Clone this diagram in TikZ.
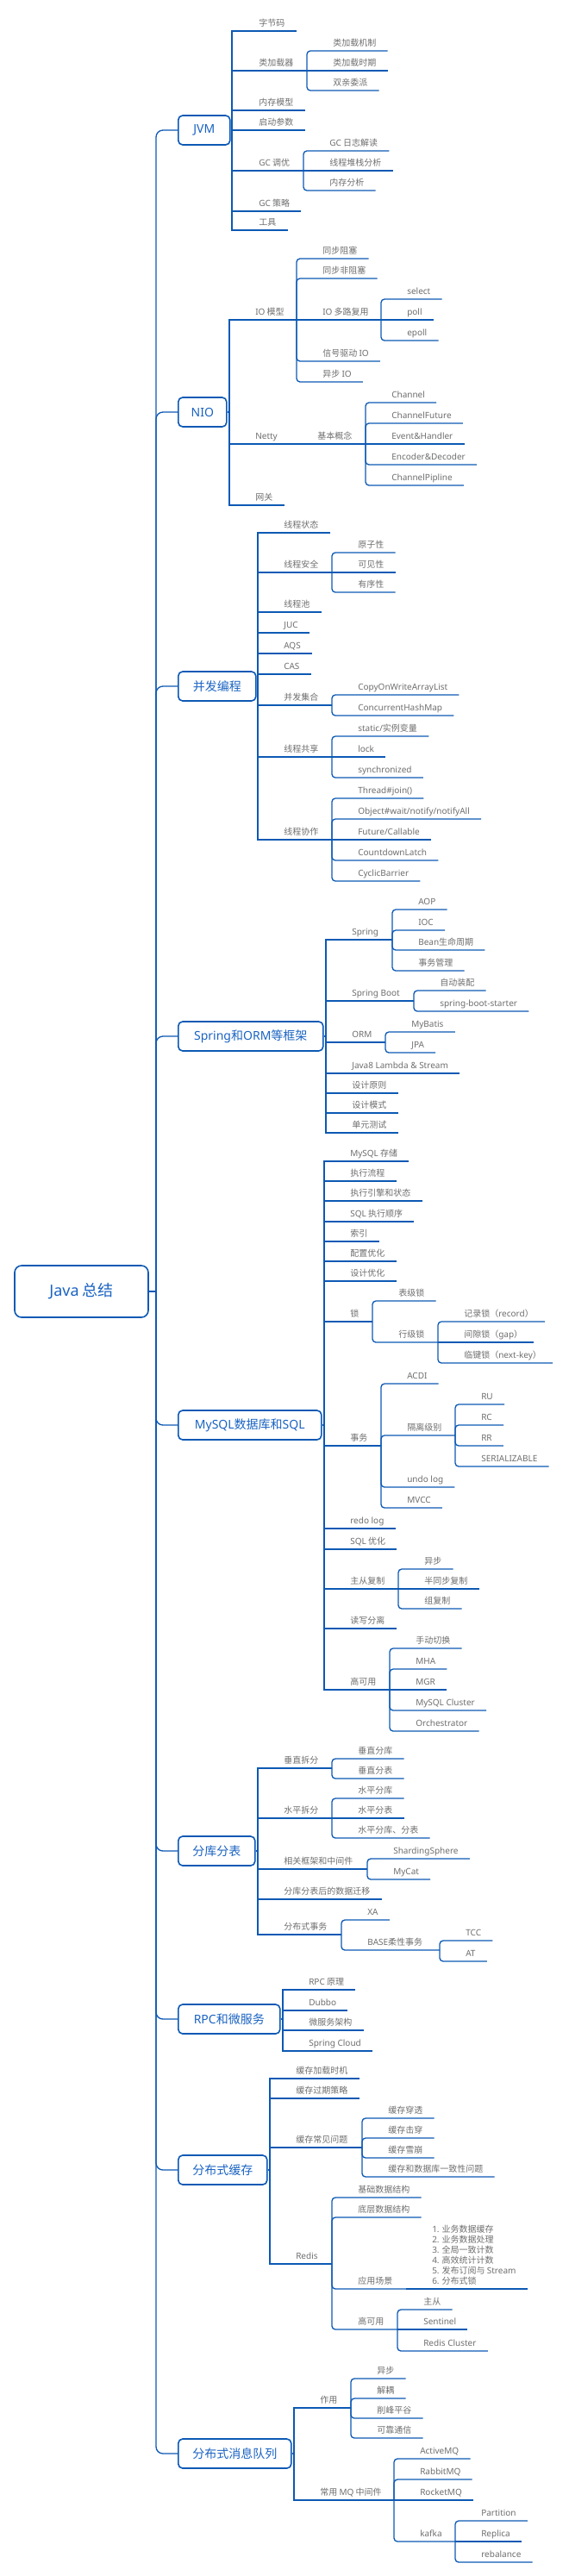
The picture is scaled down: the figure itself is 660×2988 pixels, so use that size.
\documentclass[tikz,border=0pt]{standalone}
\usepackage{fontspec}
\setmainfont{Noto Sans}
\newfontfamily\cjkf{Noto Sans CJK SC}
\newfontfamily\latf{Noto Sans}
\newcommand\LA[1]{{\latf #1}}
\definecolor{lc}{HTML}{0C59B4}
\definecolor{bt}{HTML}{1A63C2}
\definecolor{tc}{HTML}{6E6E6E}
\tikzset{
  lns/.style={draw=lc, line width=1pt},
  lnr/.style={draw=lc, line width=1pt, rounded corners=3pt},
  lnt/.style={draw=lc, line width=1pt, rounded corners=6pt},
  lbl/.style={inner sep=0pt, anchor=base west, text=tc, font=\cjkf\fontsize{7.5}{9}\selectfont},
  mmbox/.style={draw=lc, line width=1.2pt, rounded corners=3.75pt, fill=white, text=bt,
    font=\cjkf\fontsize{10.5}{12}\selectfont, minimum height=25.5pt, inner xsep=6pt, anchor=west},
  mmroot/.style={draw=lc, line width=1.2pt, rounded corners=6pt, fill=white, text=bt,
    font=\cjkf\fontsize{13.5}{15}\selectfont, minimum height=45pt, minimum width=116.25pt}
}
% {style}{name}{parent}{textx}{U}{label}
\newcommand\mkleaf[6]{%
  \node[lbl] (#2) at (#4,#5-5.5) {#6};
  \path (#2.base east) ++(13,5.5) coordinate (#2-e);
  \draw[#1] (#3) |- (#2-e);
}
% {style}{name}{parent}{textx}{U}{vx}{label}
\newcommand\mkbranch[7]{%
  \node[lbl] (#2) at (#4,#5-5.5) {#7};
  \coordinate (#2-e) at (#6,#5);
  \draw[#1] (#3) |- (#2-e);
}
% {name}{y}{widthpx}{vx}{label}
\newcommand\mkbox[5]{%
  \node[mmbox, minimum width=#3*0.75pt] (#1) at (206,#2) {#5};
  \coordinate (#1-e) at (#4,#2);
  \draw[lnt] (tr) |- (#1.west);
  \draw[lns] (#1.east) -- (#1-e);
}
\begin{document}
\begin{tikzpicture}[x=0.75pt,y=-0.75pt]
\useasboundingbox (0,0) rectangle (660,2988);
\coordinate (tr) at (181,1498);
\node[mmroot] (root) at (94.5,1498) {\LA{Java} 总结};
\draw[lns] (root.east) -- (tr);

% ---------------- JVM
\mkbox{jvm}{151}{60}{269}{\LA{JVM}}
\mkleaf{lns}{j1}{jvm-e}{300}{36}{字节码}
\mkbranch{lns}{j2}{jvm-e}{300}{82}{356}{类加载器}
 \mkleaf{lnr}{j21}{j2-e}{386}{59}{类加载机制}
 \mkleaf{lns}{j22}{j2-e}{386}{82}{类加载时期}
 \mkleaf{lnr}{j23}{j2-e}{386}{105}{双亲委派}
\mkleaf{lns}{j3}{jvm-e}{300}{128}{内存模型}
\mkleaf{lns}{j4}{jvm-e}{300}{151}{启动参数}
\mkbranch{lns}{j5}{jvm-e}{300}{198}{352}{\LA{GC} 调优}
 \mkleaf{lnr}{j51}{j5-e}{382}{175}{\LA{GC} 日志解读}
 \mkleaf{lns}{j52}{j5-e}{382}{198}{线程堆栈分析}
 \mkleaf{lnr}{j53}{j5-e}{382}{221}{内存分析}
\mkleaf{lns}{j6}{jvm-e}{300}{245}{\LA{GC} 策略}
\mkleaf{lns}{j7}{jvm-e}{300}{267}{工具}

% ---------------- NIO
\mkbox{nio}{478}{56}{266}{\LA{NIO}}
\mkbranch{lns}{n1}{nio-e}{296}{371}{344}{\LA{IO} 模型}
 \mkleaf{lnr}{n11}{n1-e}{374}{300}{同步阻塞}
 \mkleaf{lnr}{n12}{n1-e}{374}{323}{同步非阻塞}
 \mkbranch{lns}{n13}{n1-e}{374}{371}{442}{\LA{IO} 多路复用}
  \mkleaf{lnr}{n131}{n13-e}{472}{347}{\LA{select}}
  \mkleaf{lns}{n132}{n13-e}{472}{371}{\LA{poll}}
  \mkleaf{lnr}{n133}{n13-e}{472}{395}{\LA{epoll}}
 \mkleaf{lnr}{n14}{n1-e}{374}{419}{信号驱动 \LA{IO}}
 \mkleaf{lnr}{n15}{n1-e}{374}{443}{异步 \LA{IO}}
\mkbranch{lns}{n2}{nio-e}{296}{515}{338}{\LA{Netty}}
 \mkbranch{lns}{n21}{n2-e}{368}{515}{424}{基本概念}
  \mkleaf{lnr}{n211}{n21-e}{454}{467}{\LA{Channel}}
  \mkleaf{lnr}{n212}{n21-e}{454}{491}{\LA{ChannelFuture}}
  \mkleaf{lns}{n213}{n21-e}{454}{515}{\LA{Event\&Handler}}
  \mkleaf{lnr}{n214}{n21-e}{454}{539}{\LA{Encoder\&Decoder}}
  \mkleaf{lnr}{n215}{n21-e}{454}{563}{\LA{ChannelPipline}}
\mkleaf{lns}{n3}{nio-e}{296}{586}{网关}

% ---------------- 并发编程
\mkbox{con}{796}{90}{299}{并发编程}
\mkleaf{lns}{c1}{con-e}{329}{618}{线程状态}
\mkbranch{lns}{c2}{con-e}{329}{664}{385}{线程安全}
 \mkleaf{lnr}{c21}{c2-e}{415}{641}{原子性}
 \mkleaf{lns}{c22}{c2-e}{415}{664}{可见性}
 \mkleaf{lnr}{c23}{c2-e}{415}{687}{有序性}
\mkleaf{lns}{c3}{con-e}{329}{710}{线程池}
\mkleaf{lns}{c4}{con-e}{329}{734}{\LA{JUC}}
\mkleaf{lns}{c5}{con-e}{329}{758}{\LA{AQS}}
\mkleaf{lns}{c6}{con-e}{329}{782}{\LA{CAS}}
\mkbranch{lns}{c7}{con-e}{329}{818}{385}{并发集合}
 \mkleaf{lnr}{c71}{c7-e}{415}{806}{\LA{CopyOnWriteArrayList}}
 \mkleaf{lnr}{c72}{c7-e}{415}{830}{\LA{ConcurrentHashMap}}
\mkbranch{lns}{c8}{con-e}{329}{878}{385}{线程共享}
 \mkleaf{lnr}{c81}{c8-e}{415}{854}{\LA{static/}实例变量}
 \mkleaf{lns}{c82}{c8-e}{415}{878}{\LA{lock}}
 \mkleaf{lnr}{c83}{c8-e}{415}{902}{\LA{synchronized}}
\mkbranch{lns}{c9}{con-e}{329}{974}{385}{线程协作}
 \mkleaf{lnr}{c91}{c9-e}{415}{926}{\LA{Thread\#join()}}
 \mkleaf{lnr}{c92}{c9-e}{415}{950}{\LA{Object\#wait/notify/notifyAll}}
 \mkleaf{lns}{c93}{c9-e}{415}{974}{\LA{Future/Callable}}
 \mkleaf{lnr}{c94}{c9-e}{415}{998}{\LA{CountdownLatch}}
 \mkleaf{lnr}{c95}{c9-e}{415}{1022}{\LA{CyclicBarrier}}

% ---------------- Spring
\mkbox{spr}{1202}{168}{378}{\LA{Spring}和\LA{ORM}等框架}
\mkbranch{lns}{s1}{spr-e}{408}{1090}{455}{\LA{Spring}}
 \mkleaf{lnr}{s11}{s1-e}{485}{1055}{\LA{AOP}}
 \mkleaf{lnr}{s12}{s1-e}{485}{1079}{\LA{IOC}}
 \mkleaf{lnr}{s13}{s1-e}{485}{1102}{\LA{Bean}生命周期}
 \mkleaf{lnr}{s14}{s1-e}{485}{1126}{事务管理}
\mkbranch{lns}{s2}{spr-e}{408}{1161}{480}{\LA{Spring Boot}}
 \mkleaf{lnr}{s21}{s2-e}{510}{1149}{自动装配}
 \mkleaf{lnr}{s22}{s2-e}{510}{1173}{\LA{spring-boot-starter}}
\mkbranch{lns}{s3}{spr-e}{408}{1209}{447}{\LA{ORM}}
 \mkleaf{lnr}{s31}{s3-e}{477}{1197}{\LA{MyBatis}}
 \mkleaf{lnr}{s32}{s3-e}{477}{1221}{\LA{JPA}}
\mkleaf{lns}{s4}{spr-e}{408}{1245}{\LA{Java8 Lambda \& Stream}}
\mkleaf{lns}{s5}{spr-e}{408}{1268}{设计原则}
\mkleaf{lns}{s6}{spr-e}{408}{1291}{设计模式}
\mkleaf{lns}{s7}{spr-e}{408}{1314}{单元测试}

% ---------------- MySQL
\mkbox{my}{1653}{166}{376}{\LA{MySQL}数据库和\LA{SQL}}
\mkleaf{lns}{m1}{my-e}{406}{1347}{\LA{MySQL} 存储}
\mkleaf{lns}{m2}{my-e}{406}{1370}{执行流程}
\mkleaf{lns}{m3}{my-e}{406}{1393}{执行引擎和状态}
\mkleaf{lns}{m4}{my-e}{406}{1417}{\LA{SQL} 执行顺序}
\mkleaf{lns}{m5}{my-e}{406}{1440}{索引}
\mkleaf{lns}{m6}{my-e}{406}{1463}{配置优化}
\mkleaf{lns}{m7}{my-e}{406}{1486}{设计优化}
\mkbranch{lns}{m8}{my-e}{406}{1533}{432}{锁}
 \mkleaf{lnr}{m81}{m8-e}{462}{1509}{表级锁}
 \mkbranch{lnr}{m82}{m8-e}{462}{1557}{508}{行级锁}
  \mkleaf{lnr}{m821}{m82-e}{538}{1533}{记录锁（\LA{record}）}
  \mkleaf{lns}{m822}{m82-e}{538}{1557}{间隙锁（\LA{gap}）}
  \mkleaf{lnr}{m823}{m82-e}{538}{1581}{临键锁（\LA{next-key}）}
\mkbranch{lns}{m9}{my-e}{406}{1677}{442}{事务}
 \mkleaf{lnr}{m91}{m9-e}{472}{1605}{\LA{ACDI}}
 \mkbranch{lnr}{m92}{m9-e}{472}{1665}{528}{隔离级别}
  \mkleaf{lnr}{m921}{m92-e}{558}{1629}{\LA{RU}}
  \mkleaf{lnr}{m922}{m92-e}{558}{1653}{\LA{RC}}
  \mkleaf{lnr}{m923}{m92-e}{558}{1677}{\LA{RR}}
  \mkleaf{lnr}{m924}{m92-e}{558}{1701}{\LA{SERIALIZABLE}}
 \mkleaf{lnr}{m93}{m9-e}{472}{1725}{\LA{undo log}}
 \mkleaf{lnr}{m94}{m9-e}{472}{1749}{\LA{MVCC}}
\mkleaf{lns}{m10}{my-e}{406}{1773}{\LA{redo log}}
\mkleaf{lns}{m11}{my-e}{406}{1797}{\LA{SQL} 优化}
\mkbranch{lns}{m12}{my-e}{406}{1843}{462}{主从复制}
 \mkleaf{lnr}{m121}{m12-e}{492}{1820}{异步}
 \mkleaf{lns}{m122}{m12-e}{492}{1843}{半同步复制}
 \mkleaf{lnr}{m123}{m12-e}{492}{1866}{组复制}
\mkleaf{lns}{m13}{my-e}{406}{1889}{读写分离}
\mkbranch{lns}{m14}{my-e}{406}{1960}{452}{高可用}
 \mkleaf{lnr}{m141}{m14-e}{482}{1912}{手动切换}
 \mkleaf{lnr}{m142}{m14-e}{482}{1936}{\LA{MHA}}
 \mkleaf{lns}{m143}{m14-e}{482}{1960}{\LA{MGR}}
 \mkleaf{lnr}{m144}{m14-e}{482}{1984}{\LA{MySQL Cluster}}
 \mkleaf{lnr}{m145}{m14-e}{482}{2008}{\LA{Orchestrator}}

% ---------------- 分库分表
\mkbox{fk}{2147}{89}{299}{分库分表}
\mkbranch{lns}{f1}{fk-e}{329}{2051}{385}{垂直拆分}
 \mkleaf{lnr}{f11}{f1-e}{415}{2040}{垂直分库}
 \mkleaf{lnr}{f12}{f1-e}{415}{2063}{垂直分表}
\mkbranch{lns}{f2}{fk-e}{329}{2109}{385}{水平拆分}
 \mkleaf{lnr}{f21}{f2-e}{415}{2086}{水平分库}
 \mkleaf{lns}{f22}{f2-e}{415}{2109}{水平分表}
 \mkleaf{lnr}{f23}{f2-e}{415}{2132}{水平分库、分表}
\mkbranch{lns}{f3}{fk-e}{329}{2168}{426}{相关框架和中间件}
 \mkleaf{lnr}{f31}{f3-e}{456}{2156}{\LA{ShardingSphere}}
 \mkleaf{lnr}{f32}{f3-e}{456}{2180}{\LA{MyCat}}
\mkleaf{lns}{f4}{fk-e}{329}{2203}{分库分表后的数据迁移}
\mkbranch{lns}{f5}{fk-e}{329}{2244}{396}{分布式事务}
 \mkleaf{lnr}{f51}{f5-e}{426}{2227}{\LA{XA}}
 \mkbranch{lnr}{f52}{f5-e}{426}{2262}{510}{\LA{BASE}柔性事务}
  \mkleaf{lnr}{f521}{f52-e}{540}{2251}{\LA{TCC}}
  \mkleaf{lnr}{f522}{f52-e}{540}{2275}{\LA{AT}}

% ---------------- RPC
\mkbox{rpc}{2342}{118}{328}{\LA{RPC}和微服务}
\mkleaf{lns}{r1}{rpc-e}{358}{2308}{\LA{RPC} 原理}
\mkleaf{lns}{r2}{rpc-e}{358}{2332}{\LA{Dubbo}}
\mkleaf{lns}{r3}{rpc-e}{358}{2355}{微服务架构}
\mkleaf{lns}{r4}{rpc-e}{358}{2379}{\LA{Spring Cloud}}

% ---------------- 分布式缓存
\mkbox{ca}{2517}{103}{313}{分布式缓存}
\mkleaf{lns}{h1}{ca-e}{343}{2411}{缓存加载时机}
\mkleaf{lns}{h2}{ca-e}{343}{2434}{缓存过期策略}
\mkbranch{lns}{h3}{ca-e}{343}{2491}{420}{缓存常见问题}
 \mkleaf{lnr}{h31}{h3-e}{450}{2457}{缓存穿透}
 \mkleaf{lnr}{h32}{h3-e}{450}{2480}{缓存击穿}
 \mkleaf{lnr}{h33}{h3-e}{450}{2503}{缓存雪崩}
 \mkleaf{lnr}{h34}{h3-e}{450}{2525}{缓存和数据库一致性问题}
\mkbranch{lns}{h4}{ca-e}{343}{2626}{385}{\LA{Redis}}
 \mkleaf{lnr}{h41}{h4-e}{415}{2549}{基础数据结构}
 \mkleaf{lnr}{h42}{h4-e}{415}{2572}{底层数据结构}
 \mkbranch{lnr}{h43}{h4-e}{415}{2655}{471}{应用场景}
  \node[lbl, anchor=south west, align=left] (h431) at (501,2651)
    {\LA{1.} 业务数据缓存\\\LA{2.} 业务数据处理\\\LA{3.} 全局一致计数\\\LA{4.} 高效统计计数\\\LA{5.} 发布订阅与 \LA{Stream}\\\LA{6.} 分布式锁};
  \path (h431.south east) ++(13,4) coordinate (h431-e);
  \draw[lns] (h43-e) |- (h431-e);
 \mkbranch{lnr}{h44}{h4-e}{415}{2702}{461}{高可用}
  \mkleaf{lnr}{h441}{h44-e}{491}{2679}{主从}
  \mkleaf{lns}{h442}{h44-e}{491}{2702}{\LA{Sentinel}}
  \mkleaf{lnr}{h443}{h44-e}{491}{2727}{\LA{Redis Cluster}}

% ---------------- 分布式消息队列
\mkbox{mq}{2846}{131}{341}{分布式消息队列}
\mkbranch{lns}{q1}{mq-e}{371}{2793}{407}{作用}
 \mkleaf{lnr}{q11}{q1-e}{437}{2759}{异步}
 \mkleaf{lnr}{q12}{q1-e}{437}{2782}{解耦}
 \mkleaf{lnr}{q13}{q1-e}{437}{2805}{削峰平谷}
 \mkleaf{lnr}{q14}{q1-e}{437}{2828}{可靠通信}
\mkbranch{lns}{q2}{mq-e}{371}{2900}{457}{常用 \LA{MQ} 中间件}
 \mkleaf{lnr}{q21}{q2-e}{487}{2852}{\LA{ActiveMQ}}
 \mkleaf{lnr}{q22}{q2-e}{487}{2876}{\LA{RabbitMQ}}
 \mkleaf{lns}{q23}{q2-e}{487}{2900}{\LA{RocketMQ}}
 \mkbranch{lnr}{q24}{q2-e}{487}{2948}{528}{\LA{kafka}}
  \mkleaf{lnr}{q241}{q24-e}{558}{2924}{\LA{Partition}}
  \mkleaf{lns}{q242}{q24-e}{558}{2948}{\LA{Replica}}
  \mkleaf{lnr}{q243}{q24-e}{558}{2972}{\LA{rebalance}}
\end{tikzpicture}
\end{document}
